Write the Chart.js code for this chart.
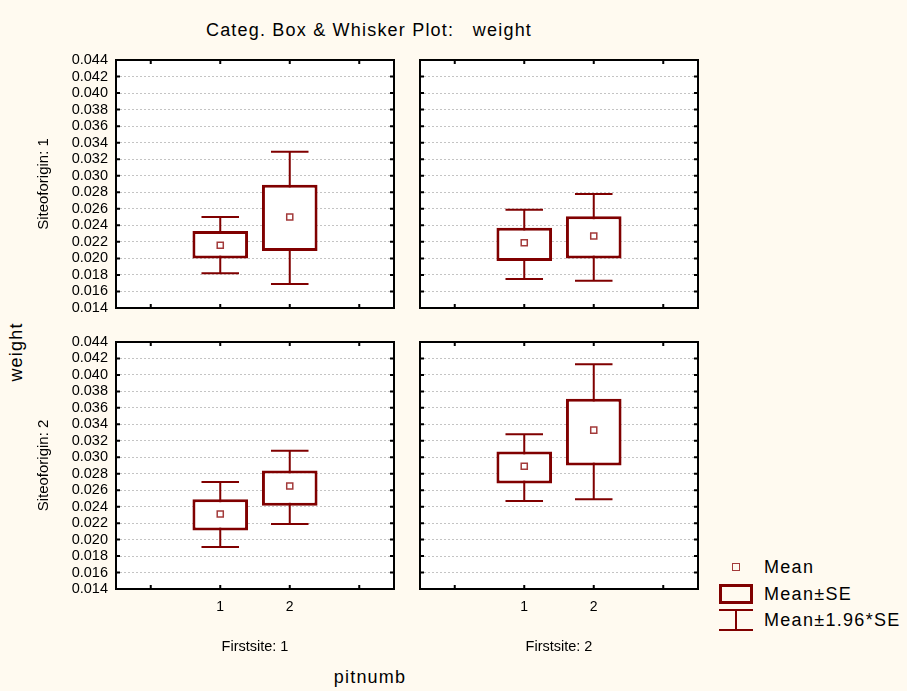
<!DOCTYPE html>
<html>
<head>
<meta charset="utf-8">
<script src="https://cdn.jsdelivr.net/npm/chart.js@4.4.1/dist/chart.umd.min.js"></script>
<style>
  html, body { margin: 0; padding: 0; background: #fffaf0; }
  body { width: 907px; height: 691px; position: relative; overflow: hidden;
         font-family: 'Liberation Sans', Arial, sans-serif; color: #000; }
  canvas { position: absolute; }
  .big { position: absolute; transform: translate(-50%, -50%); white-space: pre;
         line-height: 1; font-size: 18px; letter-spacing: 1.2px; }
  .legend-text { position: absolute; left: 764px; transform: translateY(-50%);
                 line-height: 1; font-size: 18px; letter-spacing: 1.3px; white-space: pre; }
  .sym { position: absolute; box-sizing: border-box; }
</style>
</head>
<body>
<div class="big" style="left:369px; top:30px;">Categ. Box &amp; Whisker Plot:   weight</div>
<div class="big" style="left:16px; top:352px; transform: translate(-50%, -50%) rotate(-90deg);">weight</div>
<div class="big" style="left:370px; top:677px;">pitnumb</div>

<canvas id="p0" width="390" height="270" style="left:20px; top:50px;"></canvas>
<canvas id="p1" width="300" height="270" style="left:410px; top:50px;"></canvas>
<canvas id="p2" width="390" height="330" style="left:20px; top:332px;"></canvas>
<canvas id="p3" width="300" height="330" style="left:410px; top:332px;"></canvas>

<!-- legend -->
<div class="sym" style="left:732px; top:563px; width:8px; height:8px; border:1.5px solid #a33a3a;"></div>
<div class="legend-text" style="top:567px;">Mean</div>
<div class="sym" style="left:719px; top:584px; width:34px; height:20px; border:3px solid #800000;"></div>
<div class="legend-text" style="top:594px;">Mean±SE</div>
<div class="sym" style="left:719px; top:609px; width:34px; height:2px; background:#800000;"></div>
<div class="sym" style="left:735px; top:610px; width:2px; height:20px; background:#800000;"></div>
<div class="sym" style="left:719px; top:629px; width:34px; height:2px; background:#800000;"></div>
<div class="legend-text" style="top:620px;">Mean±1.96*SE</div>

<script>
// pitnumb slots along each panel's x axis (empty slots give the side padding)
const pitnumb = ['', '1', '2', ''];
const siteLabels = ['Siteoforigin: 1', 'Siteoforigin: 2'];
const firstsiteLabels = ['Firstsite: 1', 'Firstsite: 2'];

// panels in order: [S1,F1], [S1,F2], [S2,F1], [S2,F2]; values for pitnumb 1 and 2
const means = [[0.0216, 0.0250], [0.0219, 0.0227], [0.0231, 0.0265], [0.0289, 0.0333]];
const seLow = [[0.0200, 0.0209], [0.0197, 0.0200], [0.0211, 0.0241], [0.0268, 0.0290]];
const seHigh = [[0.0233, 0.0289], [0.0237, 0.0251], [0.0249, 0.0284], [0.0307, 0.0371]];
const ciLow = [[0.0182, 0.0169], [0.0175, 0.0173], [0.0191, 0.0219], [0.0247, 0.0249]];
const ciHigh = [[0.0250, 0.0329], [0.0259, 0.0278], [0.0270, 0.0308], [0.0328, 0.0413]];

const Y_MIN = 0.014;
const Y_MAX = 0.044;
const Y_STEP = 0.002;

const BOX_COLOR = '#800000';
const MEAN_COLOR = '#a33a3a';

Chart.defaults.font.family = "'Liberation Sans', Arial, sans-serif";
Chart.defaults.font.size = 14;
Chart.defaults.color = '#000';

// layout of the four canvases
const layout = [
  { id: 'p0', yW: 96, xH: 0,  pad: { top: 10, right: 16, bottom: 12, left: 0 }, left: true,  bottom: false },
  { id: 'p1', yW: 10, xH: 0,  pad: { top: 10, right: 12, bottom: 12, left: 0 }, left: false, bottom: false },
  { id: 'p2', yW: 96, xH: 73, pad: { top: 10, right: 16, bottom: 0,  left: 0 }, left: true,  bottom: true },
  { id: 'p3', yW: 10, xH: 73, pad: { top: 10, right: 12, bottom: 0,  left: 0 }, left: false, bottom: true }
];

// pad a 2-value list out to the 4 slots
const slots = arr => [null, arr[0], arr[1], null];

function whiskerPlugin(lo, hi) {
  return {
    id: 'whiskers',
    beforeDraw(chart) {
      const { ctx, chartArea: a } = chart;
      ctx.save();
      ctx.fillStyle = '#ffffff';
      ctx.fillRect(a.left, a.top, a.right - a.left, a.bottom - a.top);
      ctx.restore();
    },
    beforeDatasetsDraw(chart) {
      const { ctx, scales: { x, y } } = chart;
      const slotW = x.getPixelForValue(1) - x.getPixelForValue(0);
      const half = slotW * 0.27;
      ctx.save();
      ctx.strokeStyle = BOX_COLOR;
      ctx.lineWidth = 2;
      lo.forEach((v, i) => {
        if (v == null) return;
        const px = x.getPixelForValue(i);
        const y0 = y.getPixelForValue(v);
        const y1 = y.getPixelForValue(hi[i]);
        ctx.beginPath();
        ctx.moveTo(px, y0); ctx.lineTo(px, y1);
        ctx.moveTo(px - half, y0); ctx.lineTo(px + half, y0);
        ctx.moveTo(px - half, y1); ctx.lineTo(px + half, y1);
        ctx.stroke();
      });
      ctx.restore();
    },
    afterDraw(chart) {
      const { ctx, chartArea: a, scales: { x, y } } = chart;
      ctx.save();
      ctx.strokeStyle = '#000';
      ctx.lineWidth = 2;
      ctx.strokeRect(a.left, a.top, a.right - a.left, a.bottom - a.top);
      ctx.beginPath();
      y.ticks.forEach(t => {
        const py = y.getPixelForValue(t.value);
        ctx.moveTo(a.left, py); ctx.lineTo(a.left + 4, py);
        ctx.moveTo(a.right - 4, py); ctx.lineTo(a.right, py);
      });
      pitnumb.forEach((_, i) => {
        const px = x.getPixelForValue(i);
        ctx.moveTo(px, a.top); ctx.lineTo(px, a.top + 4);
        ctx.moveTo(px, a.bottom - 4); ctx.lineTo(px, a.bottom);
      });
      ctx.stroke();
      ctx.restore();
    }
  };
}

layout.forEach((p, k) => {
  const row = Math.floor(k / 2);
  const col = k % 2;
  const ctx = document.getElementById(p.id).getContext('2d');
  new Chart(ctx, {
    data: {
      labels: pitnumb,
      datasets: [
        {
          type: 'line',
          label: 'Mean',
          data: slots(means[k]),
          showLine: false,
          pointStyle: 'rect',
          pointRadius: 4.3,
          pointBorderWidth: 1.5,
          pointBorderColor: MEAN_COLOR,
          pointBackgroundColor: '#ffffff',
          order: 1
        },
        {
          type: 'bar',
          label: 'Mean±SE',
          data: slots(seLow[k].map((v, i) => [v, seHigh[k][i]])),
          backgroundColor: '#ffffff',
          borderColor: BOX_COLOR,
          borderWidth: 3,
          borderSkipped: false,
          barPercentage: 0.8,
          categoryPercentage: 1.0,
          order: 2
        }
      ]
    },
    options: {
      responsive: false,
      animation: false,
      events: [],
      layout: { padding: p.pad },
      plugins: {
        legend: { display: false },
        tooltip: { enabled: false }
      },
      scales: {
        x: {
          offset: true,
          grid: { display: false, drawTicks: false },
          border: { display: false },
          ticks: { display: p.bottom, padding: 10, autoSkip: false, maxRotation: 0 },
          title: {
            display: p.bottom,
            text: firstsiteLabels[col],
            padding: { top: 0, bottom: 6 },
            font: { size: 14.5 }
          },
          afterFit(s) {
            s.height = p.xH;
            s.paddingLeft = 0;
            s.paddingRight = 0;
          }
        },
        y: {
          min: Y_MIN,
          max: Y_MAX,
          grid: { color: '#c4c4c4', lineWidth: 1, drawTicks: false },
          border: { display: false, dash: [2, 2] },
          ticks: {
            display: p.left,
            stepSize: Y_STEP,
            autoSkip: false,
            padding: 8,
            font: { size: 14.5 },
            callback: v => v.toFixed(3)
          },
          title: {
            display: p.left,
            text: siteLabels[row],
            padding: { top: 15.3, bottom: 0 },
            font: { size: 15 }
          },
          afterFit(s) {
            s.width = p.yW;
            s.paddingTop = 0;
            s.paddingBottom = 0;
          }
        }
      }
    },
    plugins: [whiskerPlugin(slots(ciLow[k]), slots(ciHigh[k]))]
  });
});
</script>
</body>
</html>
